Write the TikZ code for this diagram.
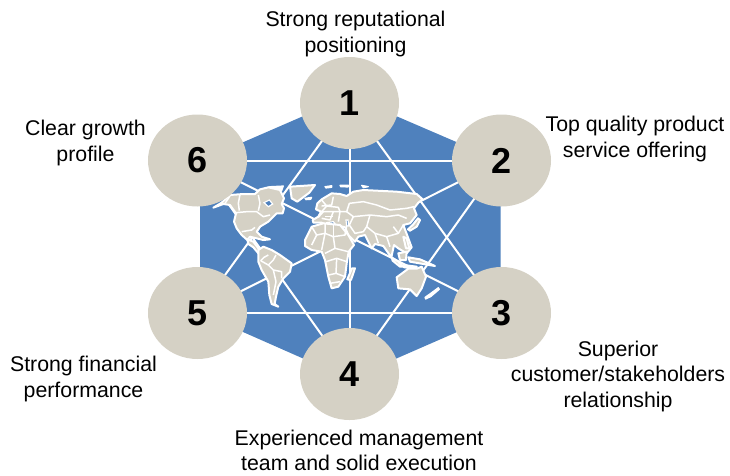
\documentclass[tikz,border=0pt]{standalone}
\usepackage{fontspec}
\setmainfont{Liberation Sans}
\usetikzlibrary{shapes.geometric,backgrounds}
\definecolor{hexblue}{HTML}{4F81BD}
\definecolor{tan}{HTML}{D5D1C5}
\tikzset{
  disc/.style={ellipse,fill=tan,minimum width=99pt,minimum height=92pt,inner sep=0pt,font=\fontsize{36}{36}\selectfont\bfseries},
  lab/.style={align=center,inner sep=0pt,font=\fontsize{21.3}{25.5}\selectfont},
  chord/.style={draw=white,line width=2pt},
  land/.style={fill=tan,draw=white,line width=2pt,line join=round},
  border/.style={draw=white,line width=1.5pt,line join=round},
  white blob/.style={fill=white,draw=white,line width=1.2pt,line join=round},
  sea/.style={fill=hexblue,draw=white,line width=1.2pt}
}
\begin{document}
\begin{tikzpicture}[x=1pt,y=-1pt]
\useasboundingbox (0,0) rectangle (730,475);
\node[disc] (c1) at (349.5,103) {1};
\node[disc] (c2) at (501.5,160.5) {2};
\node[disc] (c3) at (501.5,313) {3};
\node[disc] (c4) at (349.5,374) {4};
\node[disc] (c5) at (197.5,313) {5};
\node[disc] (c6) at (197.5,160.5) {6};
\begin{scope}[on background layer]
\fill[hexblue] (349.5,96) -- (500.5,161) -- (500.5,313) -- (349.5,379) -- (200,313) -- (200,161) -- cycle;
\draw[chord] (c1.center) -- (c4.center);
\draw[chord] (c6.center) -- (c2.center);
\draw[chord] (c5.center) -- (c3.center);
\draw[chord] (c1.center) -- (c3.center);
\draw[chord] (c1.center) -- (c5.center);
\draw[chord] (c2.center) -- (c4.center);
\draw[chord] (c6.center) -- (c4.center);
\draw[chord] (c2.center) -- (c5.center);
\draw[chord] (c6.center) -- (c3.center);
\begin{scope}[shift={(190,170)},scale=1/3]
% Greenland and Arctic islets
\draw[land] (300,50) -- (375,45) -- (358,68) -- (322,95) -- (305,85) -- cycle;
\draw[white blob] (405,50) -- (425,47) -- (425,52) -- (408,54) -- cycle;
\draw[white blob] (450,46) -- (476,46) -- (474,51) -- (452,50) -- cycle;
\draw[white blob] (345,85) -- (365,82) -- (362,88) -- (348,89) -- cycle;
\draw[white blob] (515,46) -- (535,50) -- (520,53) -- cycle;
% Canadian Arctic
\draw[white blob] (205,62) -- (240,50) -- (280,48) -- (275,62) -- (240,68) -- cycle;
% North America
\draw[land] (70,113) -- (95,98) -- (120,75) -- (160,72) -- (195,72) -- (210,58) -- (235,52) -- (270,60) -- (282,85) -- (275,102) -- (282,115) -- (278,130) -- (260,130) -- (235,155) -- (210,170) -- (200,185) -- (215,200) -- (240,208) -- (220,210) -- (200,205) -- (180,200) -- (172,210) -- (155,195) -- (140,175) -- (132,155) -- (138,130) -- (120,105) -- (100,102) -- cycle;
\draw[sea] (222,98) -- (238,90) -- (248,102) -- (235,110) -- cycle;
\draw[border] (138,128) -- (170,125) -- (200,125) -- (220,140) -- (240,135);
\draw[border] (150,73) -- (145,100) -- (148,122);
\draw[border] (155,185) -- (185,180) -- (195,172);
\draw[border] (205,75) -- (210,100) -- (205,122);
\draw[border] (120,78) -- (105,100);
% Central America
\draw[land] (172,208) -- (190,215) -- (205,235) -- (212,245) -- (205,250) -- (190,232) -- (175,222) -- cycle;
% South America
\begin{scope}[shift={(150,210)}]
\draw[land] (55,30) -- (70,20) -- (95,30) -- (120,45) -- (155,70) -- (150,95) -- (130,115) -- (115,140) -- (108,170) -- (104,192) -- (115,200) -- (95,192) -- (88,165) -- (85,125) -- (65,90) -- (55,65) -- cycle;
\draw[border] (62,62) -- (85,75) -- (100,90) -- (108,125) -- (100,165);
\draw[border] (85,45) -- (72,52) -- (62,62);
\draw[border] (85,75) -- (100,60) -- (108,45);
\draw[border] (100,90) -- (125,95) -- (125,115);
\end{scope}
% Eurasia
\draw[land] (368,150) -- (385,140) -- (393,125) -- (378,118) -- (382,100) -- (395,88) -- (425,70) -- (450,72) -- (470,78) -- (490,65) -- (520,60) -- (560,62) -- (620,65) -- (680,72) -- (698,88) -- (685,98) -- (672,115) -- (680,135) -- (660,160) -- (640,165) -- (655,205) -- (665,232) -- (650,250) -- (625,235) -- (612,225) -- (604,262) -- (580,228) -- (555,222) -- (545,235) -- (525,195) -- (505,200) -- (495,215) -- (475,195) -- (465,172) -- (440,165) -- (415,168) -- (395,158) -- (370,158) -- cycle;
\draw[sea] (410,158) -- (430,155) -- (436,162) -- (415,165) -- cycle;
\draw[sea] (468,150) -- (474,150) -- (476,168) -- (470,168) -- cycle;
\draw[border] (395,90) -- (410,108) -- (395,125);
\draw[border] (395,125) -- (430,125) -- (470,125) -- (478,100) -- (520,95) -- (560,105) -- (600,120) -- (650,115) -- (672,110);
\draw[border] (430,80) -- (425,105) -- (395,108);
\draw[border] (470,125) -- (490,140) -- (540,135) -- (590,140) -- (625,135) -- (650,145);
\draw[border] (490,140) -- (478,165) -- (495,190) -- (520,185) -- (530,170) -- (540,135);
\draw[border] (530,170) -- (555,190) -- (590,200) -- (625,190) -- (640,165);
\draw[border] (590,200) -- (600,230);
\draw[border] (555,190) -- (565,220);
\draw[border] (430,125) -- (420,150) -- (395,145);
\draw[border] (450,125) -- (445,155);
\draw[border] (400,125) -- (385,142);
\draw[border] (410,108) -- (445,112) -- (450,125);
\draw[border] (405,140) -- (430,140);
\draw[border] (610,170) -- (625,190);
% Japan, Philippines, islands
\draw[land] (668,165) -- (684,145) -- (690,150) -- (680,170) -- (660,182) -- (654,178) -- cycle;
\draw[land] (640,200) -- (650,205) -- (658,235) -- (648,235) -- cycle;
\draw[land] (605,262) -- (625,275) -- (640,290) -- (630,290) -- (608,272) -- cycle;
\draw[land] (625,250) -- (650,245) -- (648,270) -- (630,270) -- cycle;
\draw[land] (655,262) -- (690,268) -- (735,288) -- (700,282) -- (660,275) -- cycle;
\draw[land] (640,285) -- (680,290) -- (678,295) -- (642,292) -- cycle;
% Africa
\draw[land] (345,210) -- (365,170) -- (400,160) -- (450,165) -- (475,195) -- (492,225) -- (476,245) -- (470,280) -- (465,320) -- (445,350) -- (425,355) -- (415,320) -- (405,270) -- (395,245) -- (365,240) -- (345,228) -- cycle;
\draw[border] (365,170) -- (380,195) -- (365,225);
\draw[border] (380,195) -- (405,190) -- (430,200) -- (465,195) -- (470,165);
\draw[border] (405,160) -- (405,190) -- (395,240);
\draw[border] (430,200) -- (435,235) -- (405,250);
\draw[border] (435,235) -- (475,245);
\draw[border] (430,165) -- (430,200);
\draw[border] (408,275) -- (440,265) -- (470,275);
\draw[border] (440,265) -- (438,310) -- (416,315);
\draw[border] (438,310) -- (465,320);
\draw[border] (420,340) -- (450,335);
\draw[land] (486,295) -- (495,295) -- (483,330) -- (472,328) -- cycle;
% Australia, New Zealand
\draw[land] (620,322) -- (655,296) -- (680,296) -- (695,290) -- (708,320) -- (695,355) -- (680,378) -- (660,358) -- (625,355) -- cycle;
\draw[white blob] (745,353) -- (748,358) -- (722,380) -- (707,387) -- (705,382) -- (722,370) -- cycle;
\end{scope}
\end{scope}
\node[lab] (t1) at (355.5,34) {Strong reputational\\positioning};
\node[lab] (t2) at (635,139) {Top quality product\\service offering};
\node[lab] (t3) at (618,376) {Superior\\customer/stakeholders\\relationship};
\node[lab] (t4) at (359,450.5) {Experienced management\\team and solid execution};
\node[lab] (t5) at (83.5,379) {Strong financial\\performance};
\node[lab] (t6) at (85.5,143) {Clear growth\\profile};
\end{tikzpicture}
\end{document}
